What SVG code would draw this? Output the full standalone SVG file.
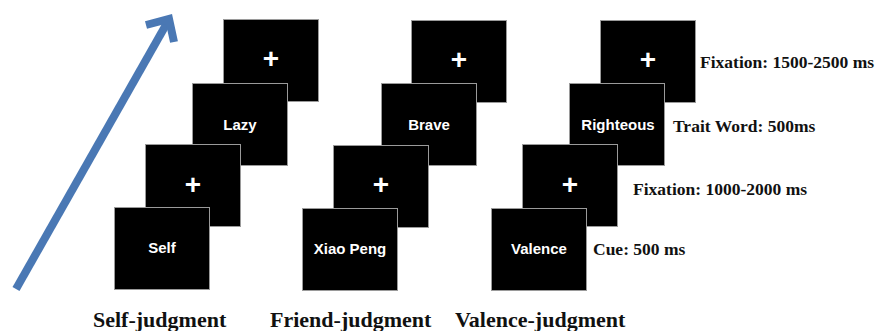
<svg xmlns="http://www.w3.org/2000/svg" width="879" height="331" viewBox="0 0 879 331">
<style>
.scr{fill:#000;stroke:#9a9a9a;stroke-width:1}
.w{fill:#fff;font-family:"Liberation Sans",Arial,sans-serif;font-weight:bold;font-size:15px;text-anchor:middle}
.p{fill:#fff;font-family:"Liberation Sans",Arial,sans-serif;font-weight:bold;font-size:28px;text-anchor:middle}
.lab{fill:#111;font-family:"Liberation Serif","Times New Roman",serif;font-weight:bold;font-size:17.5px}
.cap{fill:#111;font-family:"Liberation Serif","Times New Roman",serif;font-weight:bold;font-size:22px}
.arr{fill:none;stroke:#4a78b4;stroke-width:8}
</style>
<rect width="879" height="331" fill="#fff"/>
<g id="connectors">
<line class="arr" x1="16" y1="289" x2="167" y2="23"/>
<polyline class="arr" points="146,25 169,19 174,42" stroke-linejoin="miter" stroke-miterlimit="10"/>
</g>
<g id="self-fix2"><rect class="scr" x="223.5" y="19.5" width="95" height="82"/><text class="p" x="271" y="68">+</text></g>
<g id="self-trait"><rect class="scr" x="192.5" y="83.5" width="95" height="82"/><text class="w" x="240" y="130">Lazy</text></g>
<g id="self-fix1"><rect class="scr" x="145.5" y="144.5" width="95" height="82"/><text class="p" x="193" y="194">+</text></g>
<g id="self-cue"><rect class="scr" x="114.5" y="207.5" width="95" height="82"/><text class="w" x="162" y="253">Self</text></g>
<g id="friend-fix2"><rect class="scr" x="411.5" y="20.5" width="95" height="82"/><text class="p" x="459" y="69">+</text></g>
<g id="friend-trait"><rect class="scr" x="381.5" y="83.5" width="95" height="82"/><text class="w" x="429" y="130">Brave</text></g>
<g id="friend-fix1"><rect class="scr" x="333.5" y="145.5" width="95" height="82"/><text class="p" x="381" y="194">+</text></g>
<g id="friend-cue"><rect class="scr" x="302.5" y="208.5" width="95" height="82"/><text class="w" x="350" y="254">Xiao Peng</text></g>
<g id="valence-fix2"><rect class="scr" x="600.5" y="20.5" width="95" height="82"/><text class="p" x="648" y="69">+</text></g>
<g id="valence-trait"><rect class="scr" x="569.5" y="83.5" width="95" height="82"/><text class="w" x="618" y="130">Righteous</text></g>
<g id="valence-fix1"><rect class="scr" x="522.5" y="144.5" width="95" height="82"/><text class="p" x="570" y="194">+</text></g>
<g id="valence-cue"><rect class="scr" x="491.5" y="208.5" width="95" height="82"/><text class="w" x="539" y="254">Valence</text></g>
<g id="labels">
<text class="lab" x="700" y="68">Fixation: 1500-2500 ms</text>
<text class="lab" x="673" y="132">Trait Word: 500ms</text>
<text class="lab" x="633" y="195">Fixation: 1000-2000 ms</text>
<text class="lab" x="593" y="255">Cue: 500 ms</text>
<text class="cap" x="93" y="327">Self-judgment</text>
<text class="cap" x="270" y="327">Friend-judgment</text>
<text class="cap" x="455" y="327">Valence-judgment</text>
</g>
</svg>
